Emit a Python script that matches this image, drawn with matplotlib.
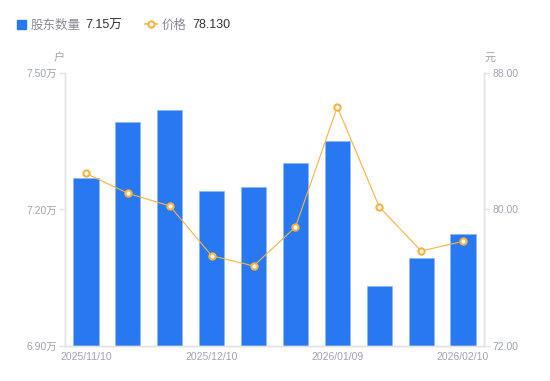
import numpy as np
import matplotlib
matplotlib.use('Agg')
import matplotlib.pyplot as plt
from matplotlib.lines import Line2D

plt.rcParams['font.family'] = ['Liberation Sans', 'Noto Sans CJK SC', 'DejaVu Sans']

dates = ['2025/11/10', '', '', '2025/12/10', '', '', '2026/01/09', '', '', '2026/02/10']
holders = [7.270, 7.392, 7.419, 7.241, 7.249, 7.303, 7.351, 7.032, 7.094, 7.146]  # 万户
price = [82.12, 80.95, 80.21, 77.29, 76.69, 78.97, 86.01, 80.15, 77.57, 78.13]

blue = '#2878f2'
orange = '#f9b23c'
grey = '#a0a3b0'
axis_grey = '#e3e3e8'

fig = plt.figure(figsize=(5.5, 3.81), dpi=100)
ax = fig.add_axes([0.1182, 0.0919, 0.7618, 0.7165])
ax2 = ax.twinx()

x = np.arange(len(holders))
ax.bar(x, holders, width=0.6, color=blue, edgecolor='#8fb8f8', linewidth=0.6, zorder=2)
ax.set_ylim(6.90, 7.50)
ax.set_xlim(-0.5, len(holders) - 0.5)
ax.set_yticks([6.90, 7.20, 7.50])
ax.set_yticklabels(['%.2f万' % v for v in [6.90, 7.20, 7.50]])
ax.set_xticks(x)
ax.set_xticklabels(dates)

ax2.plot(x, price, color=orange, linewidth=0.8, marker='o', markersize=4.5,
         markerfacecolor='white', markeredgecolor=orange, markeredgewidth=1.5, zorder=3)
ax2.set_ylim(72, 88)
ax2.set_yticks([72, 80, 88])
ax2.set_yticklabels(['%.2f' % v for v in [72, 80, 88]])

for a in (ax, ax2):
    for s in a.spines.values():
        s.set_color(axis_grey)
        s.set_linewidth(1)
    a.spines['top'].set_visible(False)
    a.tick_params(axis='y', colors=axis_grey, labelcolor=grey, labelsize=7.5, length=4, width=1, pad=2)
ax.tick_params(axis='x', length=0, labelcolor=grey, labelsize=7.5, pad=4)

fig.text(59 / 550, 1 - 58 / 381, '户', color=grey, fontsize=8, ha='center', va='center')
fig.text(490 / 550, 1 - 58 / 381, '元', color=grey, fontsize=8, ha='center', va='center')

# legend drawn by hand
ly = 1 - 25.5 / 381
fig.patches.append(plt.Rectangle((17 / 550, 1 - 29 / 381), 9 / 550, 9 / 381,
                                 transform=fig.transFigure, color=blue))
fig.text(31 / 550, ly, '股东数量', color='#8a8a96', fontsize=9, va='center')
fig.text(85 / 550, ly, '%.2f万' % holders[-1], color='#333333', fontsize=9, va='center')
fig.lines.append(Line2D([145 / 550, 157 / 550], [1 - 24 / 381, 1 - 24 / 381], transform=fig.transFigure,
                        color=orange, linewidth=1.2))
fig.lines.append(Line2D([151 / 550], [1 - 24 / 381], transform=fig.transFigure, marker='o',
                        markersize=4.5, markerfacecolor='white', markeredgecolor=orange,
                        markeredgewidth=1.5))
fig.text(162 / 550, ly, '价格', color='#8a8a96', fontsize=9, va='center')
fig.text(192 / 550, ly, '%.3f' % price[-1], color='#333333', fontsize=9, va='center')

plt.savefig('out.png', dpi=100)
